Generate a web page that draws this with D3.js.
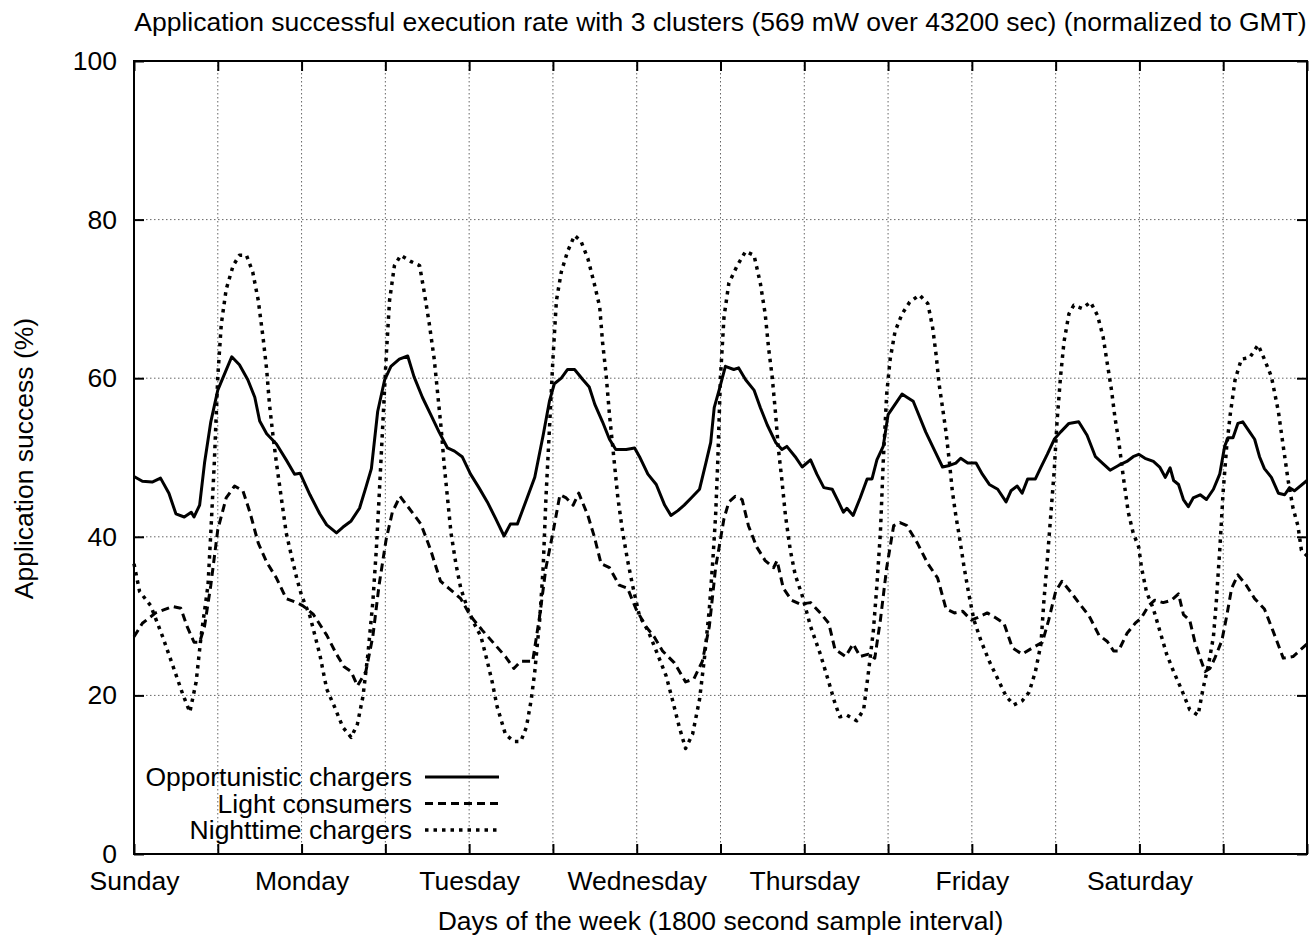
<!DOCTYPE html>
<html>
<head>
<meta charset="utf-8">
<script src="https://cdn.jsdelivr.net/npm/d3@7"></script>
<style>
  body { margin: 0; background: #fff; }
  svg { display: block; }
  text { font-family: "Liberation Sans", Arial, sans-serif; fill: #000; }
</style>
</head>
<body>
<div id="chart"></div>
<script>
const width = 1313;
const height = 937;

const margin = { top: 61, left: 134, right: 6, bottom: 83 };
const fontSize = 26.5;

// x = hours since Sunday 00:00 GMT, y = success rate (%)
const opportunistic = [
  [0,47.6],[1.2,47.0],[2.6,46.9],[3.8,47.4],[5,45.5],[6,42.9],[7.2,42.5],[8.2,43.1],[8.6,42.5],[9.4,44.0],
  [10.1,49.3],[11,54.5],[12,58.5],[13,60.6],[14,62.7],[15.1,61.7],[16.3,59.8],[17.3,57.6],[18,54.6],[19,53.0],
  [20.4,51.7],[21.8,49.7],[23,47.9],[23.8,48.0],[25.2,45.3],[26.6,42.9],[27.6,41.5],[29,40.5],[29.9,41.2],[31.1,42.0],
  [32.3,43.6],[33.2,46.2],[34,48.6],[34.9,55.8],[35.9,59.8],[36.8,61.5],[38,62.4],[39.2,62.8],[40.1,60.2],[41.3,57.6],
  [42.5,55.4],[43.7,53.2],[44.9,51.2],[45.9,50.8],[47,50.1],[48.2,47.9],[49.4,46.2],[50.6,44.4],[51.8,42.3],[53,40.1],
  [53.9,41.6],[54.9,41.6],[55.5,43.0],[56.3,44.9],[57.4,47.5],[58.6,52.8],[59.5,57.1],[60.2,59.3],[61.2,60.0],[62.1,61.1],
  [63.1,61.1],[64.3,59.8],[65.2,58.9],[66,56.7],[67.1,54.5],[68.1,52.3],[69,51.0],[70.5,51.0],[71.7,51.2],[72.4,50.1],
  [73.6,47.9],[74.8,46.6],[76,44.0],[76.9,42.7],[77.9,43.3],[78.8,44.0],[79.8,44.9],[81,46.0],[81.9,49.3],[82.6,51.9],
  [83.1,56.3],[83.8,58.5],[84.7,61.5],[85.9,61.1],[86.6,61.3],[87.6,59.8],[88.8,58.5],[89.7,56.3],[90.7,54.1],[91.9,51.9],
  [92.8,51.0],[93.5,51.4],[94.7,50.1],[95.7,48.8],[96.9,49.7],[97.8,47.9],[98.8,46.2],[100,46.0],[100.9,44.4],[101.6,43.1],
  [102.1,43.6],[103,42.7],[104,44.9],[105,47.3],[105.7,47.3],[106.4,49.7],[107.3,51.4],[108,55.4],[109,56.7],[110,58.0],
  [110.7,57.6],[111.6,57.1],[112.2,55.8],[113.4,53.2],[114.6,51.0],[115.8,48.8],[116.8,49.0],[117.7,49.3],[118.4,49.9],[119.4,49.3],
  [120.6,49.3],[121.5,47.9],[122.5,46.6],[123.7,46.0],[124.9,44.4],[125.6,45.8],[126.5,46.4],[127.2,45.5],[128,47.3],[129.1,47.3],
  [129.9,48.8],[130.8,50.4],[131.8,52.3],[132.7,53.2],[133.9,54.3],[135.3,54.5],[136.5,52.8],[137.7,50.1],[138.7,49.3],[139.8,48.4],
  [141,49.0],[142.2,49.5],[143.1,50.1],[143.9,50.4],[144.8,49.9],[146,49.5],[146.9,48.8],[147.7,47.5],[148.4,48.7],[148.9,47.1],
  [149.6,46.6],[150.3,44.7],[151,43.8],[151.7,44.9],[152.7,45.3],[153.6,44.7],[154.6,46.0],[155.5,47.9],[156.2,51.4],[156.7,52.5],
  [157.4,52.5],[158.1,54.3],[158.8,54.5],[159.8,53.2],[160.5,52.3],[161.2,50.1],[161.9,48.6],[162.9,47.5],[163.9,45.5],[164.8,45.3],
  [165.5,46.2],[166.2,45.8],[168,47.1]
];

const lightConsumers = [
  [0,27.4],[1.2,29.1],[3.1,30.4],[5.5,31.2],[6.7,31.0],[7.6,28.7],[8.6,26.7],[9.4,26.7],[10.1,28.7],[11,33.9],
  [12,40.9],[13.2,44.9],[14.4,46.4],[15.6,45.8],[16.6,43.1],[17.8,39.2],[19,36.8],[20.4,34.8],[21.8,32.2],[23.3,31.7],
  [24.2,31.3],[25.7,30.2],[27.6,27.6],[29,25.2],[30.1,23.6],[31.1,23.0],[32,21.2],[33.2,23.0],[34.2,27.4],[35.1,33.9],
  [36.1,39.6],[37,43.1],[38.1,45.1],[39.4,43.6],[41.1,41.6],[42.5,38.3],[43.9,34.4],[45.1,33.5],[46.8,32.2],[48.2,30.0],
  [49.9,28.2],[51.6,26.5],[53.2,24.9],[54.4,23.4],[55.4,24.3],[56.2,24.3],[57.1,24.3],[58.1,30.0],[59,36.1],[60,40.5],
  [61,45.3],[61.9,44.9],[62.9,44.0],[63.7,45.5],[65,42.7],[65.9,40.1],[66.9,36.6],[68.1,36.1],[69.5,33.9],[70.7,33.5],
  [71.9,30.9],[73.3,28.7],[74.5,27.4],[75.7,25.6],[77.4,24.1],[79,21.7],[80.2,22.1],[81.4,24.3],[82.4,28.7],[83.3,36.1],
  [84.5,42.3],[85.2,44.4],[86.1,45.1],[87.1,44.7],[88,41.4],[89.2,38.7],[90.4,37.0],[91.6,36.1],[92.1,37.0],[93,33.5],
  [94.2,32.0],[95.4,31.5],[96.9,31.7],[98.3,30.4],[99.5,29.1],[100.4,25.8],[101.9,24.9],[103,26.5],[104,24.9],[105.2,25.2],
  [106.1,24.7],[106.9,29.5],[107.8,36.1],[108.8,41.4],[109.7,41.8],[110.7,41.4],[112.2,39.2],[113.7,36.6],[115.1,34.8],[116.3,30.9],
  [117.5,30.4],[118.7,30.6],[119.9,29.5],[120.8,29.8],[122.2,30.4],[123.4,29.8],[124.6,29.1],[125.8,26.0],[127.2,25.2],[128.7,26.0],
  [130.1,26.7],[131,29.5],[132,33.1],[132.9,34.4],[134.1,33.1],[135.3,31.7],[136.8,30.0],[138.2,27.6],[139.4,26.8],[140.3,25.6],
  [141,25.6],[142.2,27.8],[143.4,29.1],[144.3,29.8],[145.3,31.3],[146.2,32.0],[147.4,31.7],[148.6,32.0],[149.6,32.8],[150.3,30.2],
  [151.2,29.5],[151.9,26.9],[152.7,24.7],[153.4,23.0],[154.1,23.4],[154.8,24.7],[155.8,26.9],[156.5,30.0],[157.2,33.5],[158.1,35.2],
  [159.3,33.9],[160.5,32.2],[161.9,30.9],[163.1,28.2],[164.6,24.7],[166,24.9],[168,26.5]
];

const nighttime = [
  [0,36.6],[0.8,33.1],[2.4,31.3],[4.1,27.4],[5.5,23.9],[7,20.1],[8,17.9],[8.9,21.7],[9.6,27.4],[10.6,33.9],
  [11,40.5],[11.5,49.3],[12,60.2],[12.5,66.8],[13.2,71.2],[14.2,74.2],[15.1,75.5],[16.1,75.5],[17,73.4],[17.8,69.8],
  [18.5,65.0],[19,61.1],[19.4,56.7],[19.9,52.8],[20.4,49.3],[21.1,44.9],[21.8,40.5],[22.6,37.4],[23.3,34.8],[24,32.6],
  [25.2,30.0],[26.6,25.2],[27.6,20.8],[28.7,18.6],[29.9,16.0],[31.1,14.7],[32,16.4],[32.8,19.9],[33.5,25.2],[34.2,31.7],
  [34.7,38.3],[35.1,44.9],[35.6,53.6],[36.1,62.4],[36.6,69.8],[37.3,74.2],[38.2,75.5],[39.7,74.7],[40.9,74.2],[41.6,70.7],
  [42.3,66.8],[43,62.4],[43.5,58.0],[44,53.6],[44.4,49.3],[44.9,44.9],[45.4,40.5],[46.1,36.6],[46.8,33.5],[47.8,30.9],
  [48.7,29.1],[49.7,27.4],[50.6,24.3],[51.3,21.7],[52,18.6],[53.2,15.1],[54.4,14.2],[55.4,14.2],[56.2,16.0],[56.9,19.5],
  [57.4,23.0],[58.1,29.5],[58.6,36.1],[59,44.9],[59.5,53.6],[60,62.4],[60.5,69.8],[61.2,73.4],[62.1,76.0],[63.1,78.0],
  [64,77.3],[65,75.1],[65.9,72.0],[66.7,69.0],[67.1,64.6],[67.6,60.6],[68.1,55.4],[68.8,49.3],[69.3,44.9],[70,40.5],
  [70.7,37.0],[71.4,33.9],[72.4,30.0],[73.6,28.2],[74.8,25.6],[76.2,22.5],[77.1,19.5],[78.1,16.0],[79,13.3],[80,15.1],
  [81,19.5],[81.7,24.7],[82.4,30.9],[82.9,37.0],[83.3,42.7],[83.6,49.3],[84,60.2],[84.5,67.7],[85.2,72.0],[86.4,74.2],
  [87.6,76.0],[88.8,75.5],[89.7,72.0],[90.4,68.1],[90.9,63.7],[91.4,60.2],[91.9,55.4],[92.3,51.0],[92.8,47.1],[93.3,42.7],
  [94,38.3],[94.7,35.2],[95.7,32.6],[96.9,28.7],[98.3,25.2],[99.5,21.7],[100.4,19.0],[101.1,17.3],[102.1,17.5],[103.5,16.8],
  [104.5,18.2],[105.2,23.0],[105.9,28.2],[106.4,33.9],[106.9,40.5],[107.3,49.3],[107.8,58.0],[108.3,62.4],[109,65.9],[110,68.1],
  [111.1,69.6],[112.5,70.5],[113.7,69.4],[114.4,66.3],[114.9,62.8],[115.3,59.3],[115.8,56.3],[116.3,53.2],[116.8,49.3],[117.2,45.8],
  [117.7,42.7],[118.2,40.1],[118.9,36.1],[119.6,32.6],[120.3,29.5],[121.3,26.9],[122.5,24.3],[123.7,22.1],[124.9,19.9],[126,18.8],
  [127.2,19.3],[128.2,20.4],[129.1,23.0],[129.9,26.5],[130.3,31.7],[130.8,37.0],[131.3,42.7],[131.8,48.4],[132.2,54.5],[132.7,60.2],
  [133.2,64.6],[133.9,68.1],[134.6,69.2],[135.8,68.8],[137,69.6],[138,67.9],[138.8,65.2],[139.3,62.4],[140,58.5],[140.5,55.0],
  [141,52.3],[141.7,47.5],[142.4,43.1],[143.1,40.5],[143.9,38.7],[144.3,36.1],[145,33.1],[146,30.9],[146.9,28.2],[147.9,25.2],
  [148.9,23.0],[150,20.8],[151.2,18.2],[152.4,17.5],[153.1,20.8],[153.9,23.9],[154.6,27.4],[155,31.7],[155.5,38.3],[156,45.8],
  [156.5,51.4],[157,55.4],[157.7,59.8],[158.6,62.4],[159.8,62.6],[161,64.2],[161.9,62.4],[162.9,60.2],[163.9,55.8],[164.6,51.4],
  [165.3,47.1],[166,43.6],[166.7,41.4],[167.2,38.3],[168,37.6]
];

const seriesNames = ["Opportunistic chargers", "Light consumers", "Nighttime chargers"];
const dayLabels = ["Sunday", "Monday", "Tuesday", "Wednesday", "Thursday", "Friday", "Saturday"];
const xTicks = d3.range(0, 169, 12);   // every half day
const yTicks = [0, 20, 40, 60, 80, 100];

const series = [
  { name: seriesNames[0], values: opportunistic, dash: null, w: 3 },
  { name: seriesNames[1], values: lightConsumers, dash: "8,5", w: 3 },
  { name: seriesNames[2], values: nighttime, dash: "3.5,5", w: 3.5 }
];

const innerW = width - margin.left - margin.right;
const innerH = height - margin.top - margin.bottom;

const xScale = d3.scaleLinear().domain([0, 168]).range([0, innerW]);
const yScale = d3.scaleLinear().domain([0, 100]).range([innerH, 0]);

const svg = d3.select("#chart").append("svg").attr("width", width).attr("height", height);
const g = svg.append("g").attr("transform", `translate(${margin.left},${margin.top})`);

// grid
g.append("g").selectAll("line")
  .data(xTicks.filter(d => d > 0 && d < 168))
  .join("line")
  .attr("x1", d => xScale(d)).attr("x2", d => xScale(d))
  .attr("y1", 0).attr("y2", innerH)
  .attr("stroke", "#666").attr("stroke-width", 1).attr("stroke-dasharray", "1.5,2.5");

g.append("g").selectAll("line")
  .data(yTicks.filter(d => d > 0 && d < 100))
  .join("line")
  .attr("x1", 0).attr("x2", innerW)
  .attr("y1", d => yScale(d)).attr("y2", d => yScale(d))
  .attr("stroke", "#666").attr("stroke-width", 1).attr("stroke-dasharray", "1.5,2.5");

// axes (gnuplot style: ticks inward, mirrored)
const dayFormat = d => (d % 24 === 0 && d < 168) ? dayLabels[d / 24] : "";

const xAxis = d3.axisBottom(xScale).tickValues(xTicks).tickFormat(dayFormat).tickSize(-10).tickPadding(17);
const xAxisTop = d3.axisTop(xScale).tickValues(xTicks).tickFormat("").tickSize(-10);
const yAxis = d3.axisLeft(yScale).tickValues(yTicks).tickSize(-10).tickPadding(17);
const yAxisRight = d3.axisRight(yScale).tickValues(yTicks).tickFormat("").tickSize(-10);

const axes = [
  g.append("g").attr("transform", `translate(0,${innerH})`).call(xAxis),
  g.append("g").call(xAxisTop),
  g.append("g").call(yAxis),
  g.append("g").attr("transform", `translate(${innerW},0)`).call(yAxisRight)
];
axes.forEach(a => {
  a.select(".domain").remove();
  a.selectAll(".tick line").attr("stroke", "#000").attr("stroke-width", 2);
  a.selectAll("text").attr("font-size", fontSize).attr("font-family", null).attr("fill", "#000");
});

// frame
g.append("rect")
  .attr("x", 0).attr("y", 0).attr("width", innerW).attr("height", innerH)
  .attr("fill", "none").attr("stroke", "#000").attr("stroke-width", 2);

// lines
const line = d3.line().x(d => xScale(d[0])).y(d => yScale(d[1]));

g.append("g").selectAll("path")
  .data(series)
  .join("path")
  .attr("d", d => line(d.values))
  .attr("fill", "none")
  .attr("stroke", "#000")
  .attr("stroke-width", d => d.w)
  .attr("stroke-linejoin", "round")
  .attr("stroke-dasharray", d => d.dash);

// legend
const legend = g.append("g").attr("transform", "translate(278,716)");
series.forEach((s, i) => {
  const row = legend.append("g").attr("transform", `translate(0,${i * 26.5})`);
  row.append("text").attr("x", 0).attr("y", 9).attr("text-anchor", "end")
    .attr("font-size", fontSize).text(s.name);
  row.append("line").attr("x1", 13).attr("x2", 87).attr("y1", 0).attr("y2", 0)
    .attr("stroke", "#000").attr("stroke-width", s.w).attr("stroke-dasharray", s.dash);
});

// titles
svg.append("text")
  .attr("x", margin.left + innerW / 2).attr("y", 31)
  .attr("text-anchor", "middle").attr("font-size", fontSize)
  .text("Application successful execution rate with 3 clusters (569 mW over 43200 sec) (normalized to GMT)");

svg.append("text")
  .attr("x", margin.left + innerW / 2).attr("y", 930)
  .attr("text-anchor", "middle").attr("font-size", fontSize)
  .text("Days of the week (1800 second sample interval)");

svg.append("text")
  .attr("transform", `translate(33,${margin.top + innerH / 2 + 1}) rotate(-90)`)
  .attr("text-anchor", "middle").attr("font-size", fontSize)
  .text("Application success (%)");
</script>
</body>
</html>
